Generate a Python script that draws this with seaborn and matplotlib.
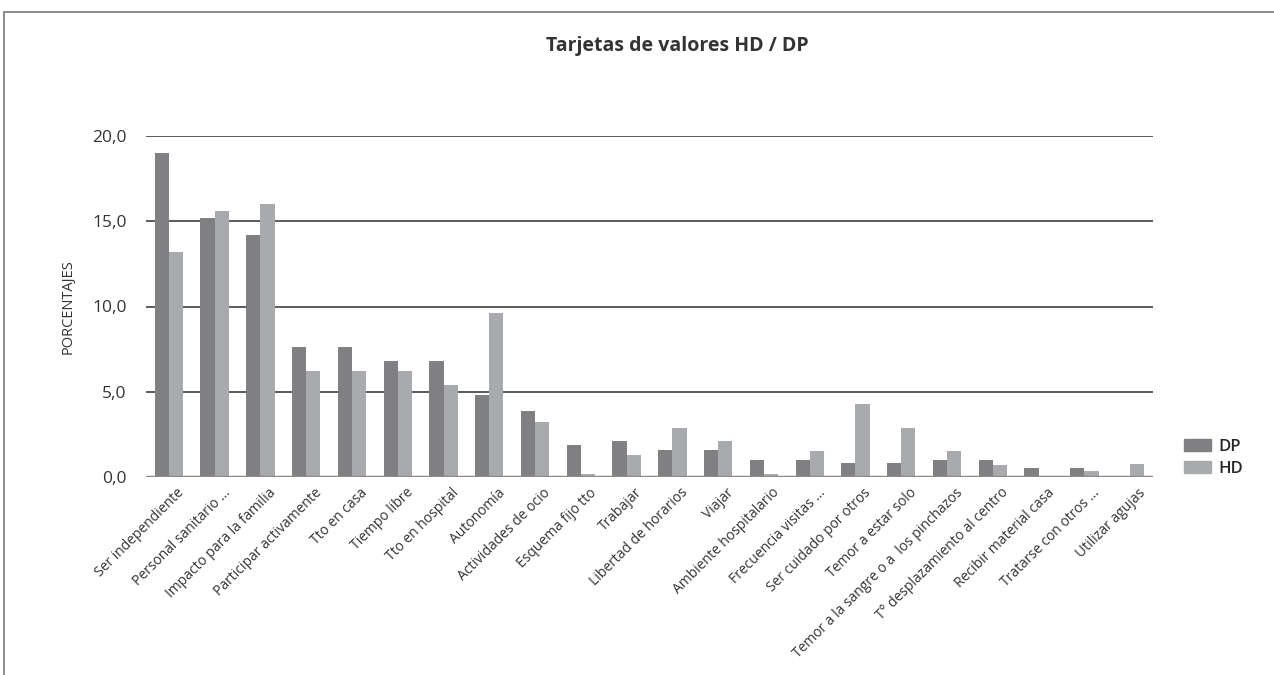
"""
Tarjetas de valores HD / DP - grouped bar chart
"""

import pandas as pd
import matplotlib
matplotlib.use("Agg")
import matplotlib.pyplot as plt
import matplotlib.transforms as mtransforms
import seaborn as sns

categorias = [
    "Ser independiente", "Personal sanitario ...", "Impacto para la familia",
    "Participar activamente", "Tto en casa", "Tiempo libre", "Tto en hospital",
    "Autonomía", "Actividades de ocio", "Esquema fijo tto", "Trabajar",
    "Libertad de horarios", "Viajar", "Ambiente hospitalario",
    "Frecuencia visitas ...", "Ser cuidado por otros", "Temor a estar solo",
    "Temor a la sangre o a  los pinchazos", "T° desplazamiento al centro",
    "Recibir material casa", "Tratarse con otros ...", "Utilizar agujas",
]
dp = [19.0, 15.2, 14.2, 7.6, 7.6, 6.8, 6.8, 4.8, 3.9, 1.9, 2.1,
      1.6, 1.6, 1.0, 1.0, 0.8, 0.8, 1.0, 1.0, 0.5, 0.5, 0.0]
hd = [13.2, 15.6, 16.0, 6.2, 6.2, 6.2, 5.4, 9.6, 3.2, 0.2, 1.3,
      2.9, 2.1, 0.2, 1.5, 4.3, 2.9, 1.5, 0.7, 0.0, 0.35, 0.75]
series = ["DP", "HD"]
colores = {"DP": "#808083", "HD": "#a9aaad"}

# long-form table for seaborn
df = pd.DataFrame({
    "categoria": categorias * 2,
    "serie": ["DP"] * len(categorias) + ["HD"] * len(categorias),
    "valor": dp + hd,
})

sns.set_style("white")
plt.rcParams["font.family"] = ["Open Sans", "DejaVu Sans"]

fig = plt.figure(figsize=(12.74, 6.75), dpi=100)
ax = fig.add_axes([146 / 1274, 1 - 477 / 675, (1153 - 146) / 1274, (477 - 136) / 675])

sns.barplot(data=df, x="categoria", y="valor", hue="serie", palette=colores,
            hue_order=series, width=0.62, ax=ax, legend=False,
            saturation=1, linewidth=0)

ax.set_ylim(0, 20)
ax.set_xlim(-0.5, len(categorias) - 0.5)
ax.set_yticks([0, 5, 10, 15, 20])
ax.set_yticklabels(["0,0", "5,0", "10,0", "15,0", "20,0"], fontsize=12.5, color="#333333")
for y in [5, 10, 15, 20]:
    ax.axhline(y, color="#5a5a5a", lw=1.4, zorder=0)
ax.axhline(0, color="#8c8c8c", lw=2.5, zorder=3)

ax.set_xticks(range(len(categorias)))
ax.set_xticklabels(categorias, rotation=45, ha="right", rotation_mode="anchor",
                   fontsize=10, color="#333333")
ax.tick_params(axis="both", length=0)
ax.tick_params(axis="y", pad=14)
ax.tick_params(axis="x", pad=6)
# nudge the slanted labels to the right, like the original
shift = mtransforms.ScaledTranslation(8 / 100, 0, fig.dpi_scale_trans)
for lbl in ax.get_xticklabels():
    lbl.set_transform(lbl.get_transform() + shift)
for s in ax.spines.values():
    s.set_visible(False)
ax.set_xlabel("")
ax.set_ylabel("PORCENTAJES", fontsize=10.5, color="#333333", labelpad=12)

fig.text(677 / 1274, 1 - 46 / 675, "Tarjetas de valores HD / DP", ha="center",
         va="center", fontsize=14, fontweight="bold", color="#333333")

# legend
handles = [plt.Rectangle((0, 0), 1, 1, color=colores[s]) for s in series]
fig.legend(handles, series, loc="center left", bbox_to_anchor=(1184 / 1274, 1 - 458 / 675),
           frameon=False, handlelength=1.6, handleheight=0.72, borderpad=0,
           borderaxespad=0, handletextpad=0.45, labelspacing=0.35,
           prop={"weight": "semibold", "size": 12})

# outer frame
fig.patches.append(plt.Rectangle((4 / 1274, -0.1), 1.2, 1 - 12 / 675 + 0.1,
                                 transform=fig.transFigure, fill=False,
                                 edgecolor="#777777", lw=1.2))

plt.savefig("out.png", dpi=100)
plt.close()
